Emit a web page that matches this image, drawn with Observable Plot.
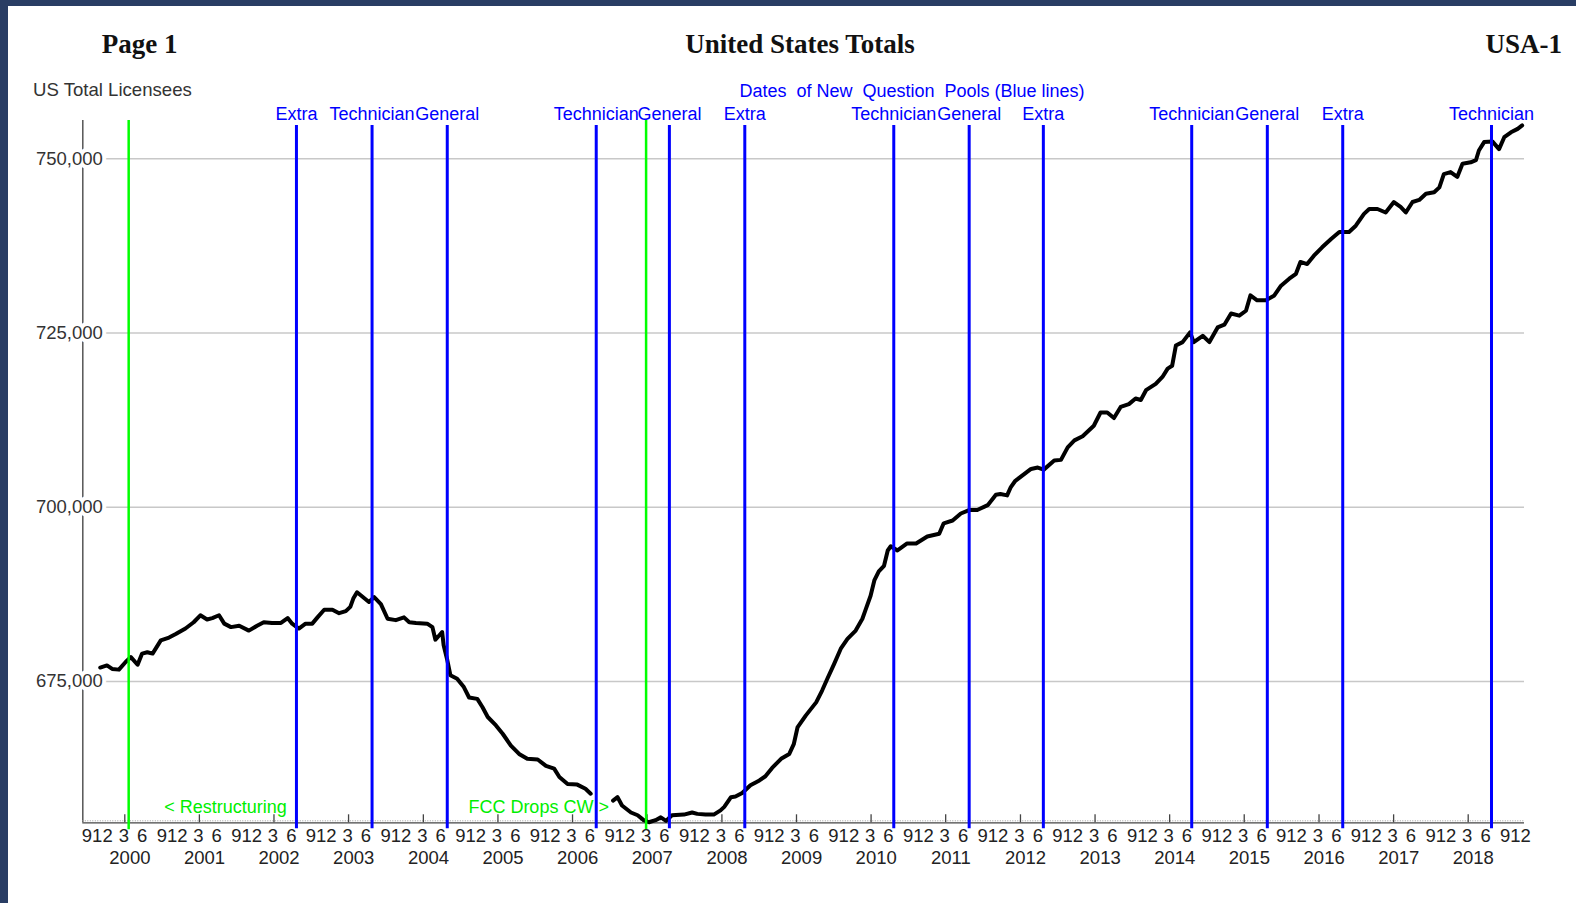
<!DOCTYPE html>
<html>
<head>
<meta charset="utf-8">
<script src="https://cdn.jsdelivr.net/npm/d3@7"></script>
<script src="https://cdn.jsdelivr.net/npm/@observablehq/plot@0.6"></script>
<style>
html, body { margin: 0; padding: 0; }
body { width: 1576px; height: 903px; background: #293d64; position: relative; overflow: hidden; font-family: "Liberation Sans", Arial, sans-serif; }
#panel { position: absolute; left: 8px; top: 6px; width: 1568px; height: 897px; background: #ffffff; }
.t { position: absolute; white-space: pre; line-height: 1; }
.title { font-family: "Liberation Serif", "Times New Roman", serif; font-weight: bold; font-size: 27px; color: #111; }
.small { font-size: 18px; }
</style>
</head>
<body>
<div id="panel"><div id="chart"></div></div>
<div class="t title" style="left:101.7px; top:30.6px;">Page 1</div>
<div class="t title" style="left:800px; top:30.6px; transform:translateX(-50%);">United States Totals</div>
<div class="t title" style="right:14px; top:30.6px;">USA-1</div>
<div class="t small" style="left:33px; top:81.2px; color:#333; font-size:18.6px;">US Total Licensees</div>
<div class="t small" style="left:912px; top:82px; transform:translateX(-50%); color:#0000ff;">Dates  of New  Question  Pools (Blue lines)</div>
<script>
// ---------- data ----------
// decimal year of each reading
const licYears = [
  1999.92, 2000.01, 2000.08, 2000.17, 2000.26, 2000.33, 2000.42, 2000.48, 2000.55, 2000.62,
  2000.73, 2000.84, 2000.93, 2001.06, 2001.17, 2001.26, 2001.35, 2001.42, 2001.51, 2001.58,
  2001.67, 2001.78, 2001.91, 2002.02, 2002.11, 2002.22, 2002.34, 2002.43, 2002.49, 2002.58,
  2002.67, 2002.76, 2002.83, 2002.92, 2003.03, 2003.12, 2003.21, 2003.27, 2003.31, 2003.36,
  2003.43, 2003.52, 2003.59, 2003.68, 2003.77, 2003.88, 2003.99, 2004.06, 2004.15, 2004.30,
  2004.37, 2004.41, 2004.46, 2004.50, 2004.52, 2004.57, 2004.61, 2004.70, 2004.79, 2004.86,
  2004.97, 2005.04, 2005.11, 2005.22, 2005.31, 2005.42, 2005.53, 2005.64, 2005.78, 2005.89,
  2006.00, 2006.07, 2006.18, 2006.31, 2006.42, 2006.49, 2006.64, 2006.79, 2006.85, 2006.91,
  2007.03, 2007.12, 2007.20, 2007.27, 2007.36, 2007.43, 2007.50, 2007.58, 2007.74, 2007.85,
  2007.92, 2008.03, 2008.14, 2008.23, 2008.28, 2008.37, 2008.43, 2008.52, 2008.63, 2008.75,
  2008.83, 2008.92, 2009.04, 2009.15, 2009.21, 2009.26, 2009.37, 2009.51, 2009.59, 2009.66,
  2009.75, 2009.84, 2009.93, 2010.04, 2010.13, 2010.17, 2010.24, 2010.29, 2010.35, 2010.42,
  2010.47, 2010.51, 2010.60, 2010.73, 2010.85, 2011.00, 2011.16, 2011.22, 2011.34, 2011.45,
  2011.56, 2011.67, 2011.81, 2011.92, 2011.98, 2012.07, 2012.12, 2012.18, 2012.39, 2012.48,
  2012.56, 2012.70, 2012.79, 2012.88, 2012.97, 2013.08, 2013.23, 2013.32, 2013.41, 2013.50,
  2013.59, 2013.70, 2013.79, 2013.86, 2013.93, 2014.06, 2014.15, 2014.22, 2014.28, 2014.33,
  2014.42, 2014.52, 2014.57, 2014.69, 2014.78, 2014.89, 2014.98, 2015.07, 2015.18, 2015.27,
  2015.33, 2015.42, 2015.54, 2015.65, 2015.74, 2015.85, 2015.94, 2016.00, 2016.09, 2016.18,
  2016.29, 2016.41, 2016.52, 2016.65, 2016.74, 2016.85, 2016.92, 2017.03, 2017.14, 2017.25,
  2017.34, 2017.41, 2017.50, 2017.59, 2017.68, 2017.79, 2017.86, 2017.92, 2018.01, 2018.10,
  2018.17, 2018.28, 2018.35, 2018.39, 2018.46, 2018.57, 2018.66, 2018.73, 2018.82, 2018.91,
  2018.97
];
// US total licensees (null = gap in the record)
const licCounts = [
  677000, 677300, 676800, 676700, 677800, 678500, 677400, 679000, 679200, 679000,
  680900, 681300, 681800, 682600, 683500, 684500, 683900, 684100, 684500, 683300,
  682800, 683000, 682300, 683000, 683500, 683400, 683400, 684100, 683300, 682600,
  683300, 683300, 684200, 685300, 685300, 684800, 685100, 685700, 686900, 687800,
  687200, 686400, 687100, 686100, 684000, 683800, 684200, 683500, 683400, 683300,
  682800, 681000, 681600, 682100, 680200, 678000, 675900, 675400, 674200, 672700,
  672500, 671300, 669900, 668700, 667500, 665800, 664600, 663900, 663800, 662900,
  662500, 661300, 660300, 660200, 659600, 658900, null,   657900, 658400, 657200,
  656200, 655800, 655100, 654800, 655100, 655500, 655000, 655800, 655900, 656200,
  656000, 655900, 655900, 656500, 657000, 658400, 658500, 659000, 660100, 660800,
  661400, 662600, 663900, 664600, 666000, 668400, 670100, 672000, 673700, 675400,
  677500, 679700, 681100, 682300, 684000, 685200, 687300, 689500, 690800, 691600,
  693800, 694400, 693800, 694800, 694800, 695800, 696200, 697700, 698100, 699100,
  699600, 699600, 700300, 701800, 701900, 701700, 702900, 703800, 705500, 705700,
  705400, 706700, 706800, 708600, 709600, 710200, 711700, 713600, 713600, 712800,
  714400, 714800, 715600, 715400, 716800, 717700, 718700, 719900, 720300, 723200,
  723700, 725100, 723700, 724600, 723700, 725800, 726200, 727800, 727500, 728200,
  730400, 729700, 729700, 730400, 731800, 732800, 733500, 735200, 734900, 736100,
  737300, 738500, 739500, 739500, 740400, 742100, 742800, 742800, 742300, 743800,
  743100, 742300, 743800, 744100, 745000, 745200, 745900, 747800, 748100, 747400,
  749300, 749500, 749800, 751200, 752400, 752500, 751400, 753100, 753800, 754300,
  754800
];
// new question pools (blue lines)
const poolDates = ["2002-07-20", "2003-07-25", "2004-07-27", "2006-07-26", "2007-07-19", "2008-07-22",
                   "2010-07-21", "2011-07-25", "2012-07-22", "2014-07-18", "2015-07-23", "2016-07-26", "2018-07-24"];
const poolNames = ["Extra", "Technician", "General", "Technician", "General", "Extra",
                   "Technician", "General", "Extra", "Technician", "General", "Extra", "Technician"];
// events (green lines) and their notes
const eventDates = ["2000-04-20", "2007-03-27"];
const eventNotes = ["< Restructuring", "FCC Drops CW >"];
const eventNoteEnds = ["2002-06-03", "2006-09-26"];
// axes
const yTicks = [675000, 700000, 725000, 750000];
const yearLabels = [2000, 2001, 2002, 2003, 2004, 2005, 2006, 2007, 2008, 2009,
                    2010, 2011, 2012, 2013, 2014, 2015, 2016, 2017, 2018];
const monthLabels = ["9", "12", "3", "6"];

// ---------- build ----------
const fromDecimal = t => {
  const y = Math.floor(t);
  const a = Date.UTC(y, 0, 1), b = Date.UTC(y + 1, 0, 1);
  return new Date(a + (t - y) * (b - a));
};
const series = licYears.map((t, i) => ({date: fromDecimal(t), value: licCounts[i]}));
const pools = poolDates.map((d, i) => ({date: new Date(d), name: poolNames[i]}));
const events = eventDates.map(d => new Date(d));
const notes = eventNotes.map((n, i) => ({date: new Date(eventNoteEnds[i]), text: n}));

// quarter labels: "9" (Oct), "12", "3" (Apr), "6" (Jul) around each year's tick
const qMid = [], qStart = [];
for (const Y of yearLabels) {
  qMid.push({date: new Date(Date.UTC(Y - 1, 8, 29)), text: monthLabels[0]});
  qStart.push({date: new Date(Date.UTC(Y - 1, 9, 24)), text: monthLabels[1]});
  qMid.push({date: new Date(Date.UTC(Y, 2, 27)), text: monthLabels[2]});
  qMid.push({date: new Date(Date.UTC(Y, 5, 25)), text: monthLabels[3]});
}
const lastY = yearLabels[yearLabels.length - 1];
qMid.push({date: new Date(Date.UTC(lastY, 8, 29)), text: monthLabels[0]});
qStart.push({date: new Date(Date.UTC(lastY, 9, 24)), text: monthLabels[1]});
const yearTicks = yearLabels.map(Y => new Date(Date.UTC(Y, 3, 1)));
const yearText = yearLabels.map(Y => ({date: new Date(Date.UTC(Y, 3, 26)), text: String(Y)}));

const W = 1568, H = 897;
const mL = 74.3, mR = 52, mT = 114, mB = 80.7;
const yMin = 654720, yMax = 755500;
const xDomain = [new Date(Date.UTC(1999, 8, 8, 12)), new Date(Date.UTC(2019, 0, 1, 12))];
const unitsPerPx = (yMax - yMin) / (H - mT - mB);

const chart = Plot.plot({
  width: W, height: H,
  marginLeft: mL, marginRight: mR, marginTop: mT, marginBottom: mB,
  style: {fontFamily: "'Liberation Sans', Arial, sans-serif", fontSize: "18px", background: "transparent", color: "#222"},
  x: {type: "utc", domain: xDomain, axis: null},
  y: {domain: [yMin, yMax], axis: null},
  marks: [
    Plot.ruleY(yTicks, {y: d => d, stroke: "#c8c8c8", strokeWidth: 1.5, insetLeft: 21}),
    Plot.ruleX([xDomain[0]], {x: d => d, stroke: "#555", strokeWidth: 1.5}),
    Plot.ruleY([yMin], {y: d => d, stroke: "#444", strokeWidth: 1.3}),
    Plot.ruleY([yMin], {y: d => d, stroke: "#999", strokeWidth: 1, strokeDasharray: "1,1.5", dy: -2}),
    Plot.ruleX(yearTicks, {x: d => d, y1: yMin, y2: yMin + 8 * unitsPerPx, stroke: "#444", strokeWidth: 1.3}),
    Plot.text(yTicks, {y: d => d, text: d => d3.format(",")(d), frameAnchor: "left", textAnchor: "end",
                       lineAnchor: "middle", dx: 20, fill: "#333", stroke: "white", strokeWidth: 8, fontSize: 18.5}),
    Plot.line(series, {x: "date", y: "value", stroke: "black", strokeWidth: 4,
                       strokeLinejoin: "round", strokeLinecap: "round"}),
    Plot.ruleX(events, {x: d => d, stroke: "#00ff00", strokeWidth: 2.5, insetBottom: -7}),
    Plot.ruleX(pools, {x: "date", stroke: "#0000ff", strokeWidth: 3, insetTop: 5, insetBottom: -6}),
    Plot.text(pools, {x: "date", text: "name", frameAnchor: "top", lineAnchor: "middle", dy: -6, fill: "#0000ff", fontSize: 18}),
    Plot.text(notes, {x: "date", text: "text", frameAnchor: "bottom", lineAnchor: "middle", textAnchor: "end", dy: -16, fill: "#00ee00", fontSize: 18}),
    Plot.text(qMid, {x: "date", text: "text", frameAnchor: "bottom", lineAnchor: "middle", dy: 13, fill: "#222", fontSize: 18.5}),
    Plot.text(qStart, {x: "date", text: "text", frameAnchor: "bottom", lineAnchor: "middle", textAnchor: "start", dy: 13, fill: "#222", fontSize: 18.5}),
    Plot.text(yearText, {x: "date", text: "text", frameAnchor: "bottom", lineAnchor: "middle", dy: 35, fill: "#222", fontSize: 18.5})
  ]
});
document.getElementById("chart").appendChild(chart);
</script>
</body>
</html>
